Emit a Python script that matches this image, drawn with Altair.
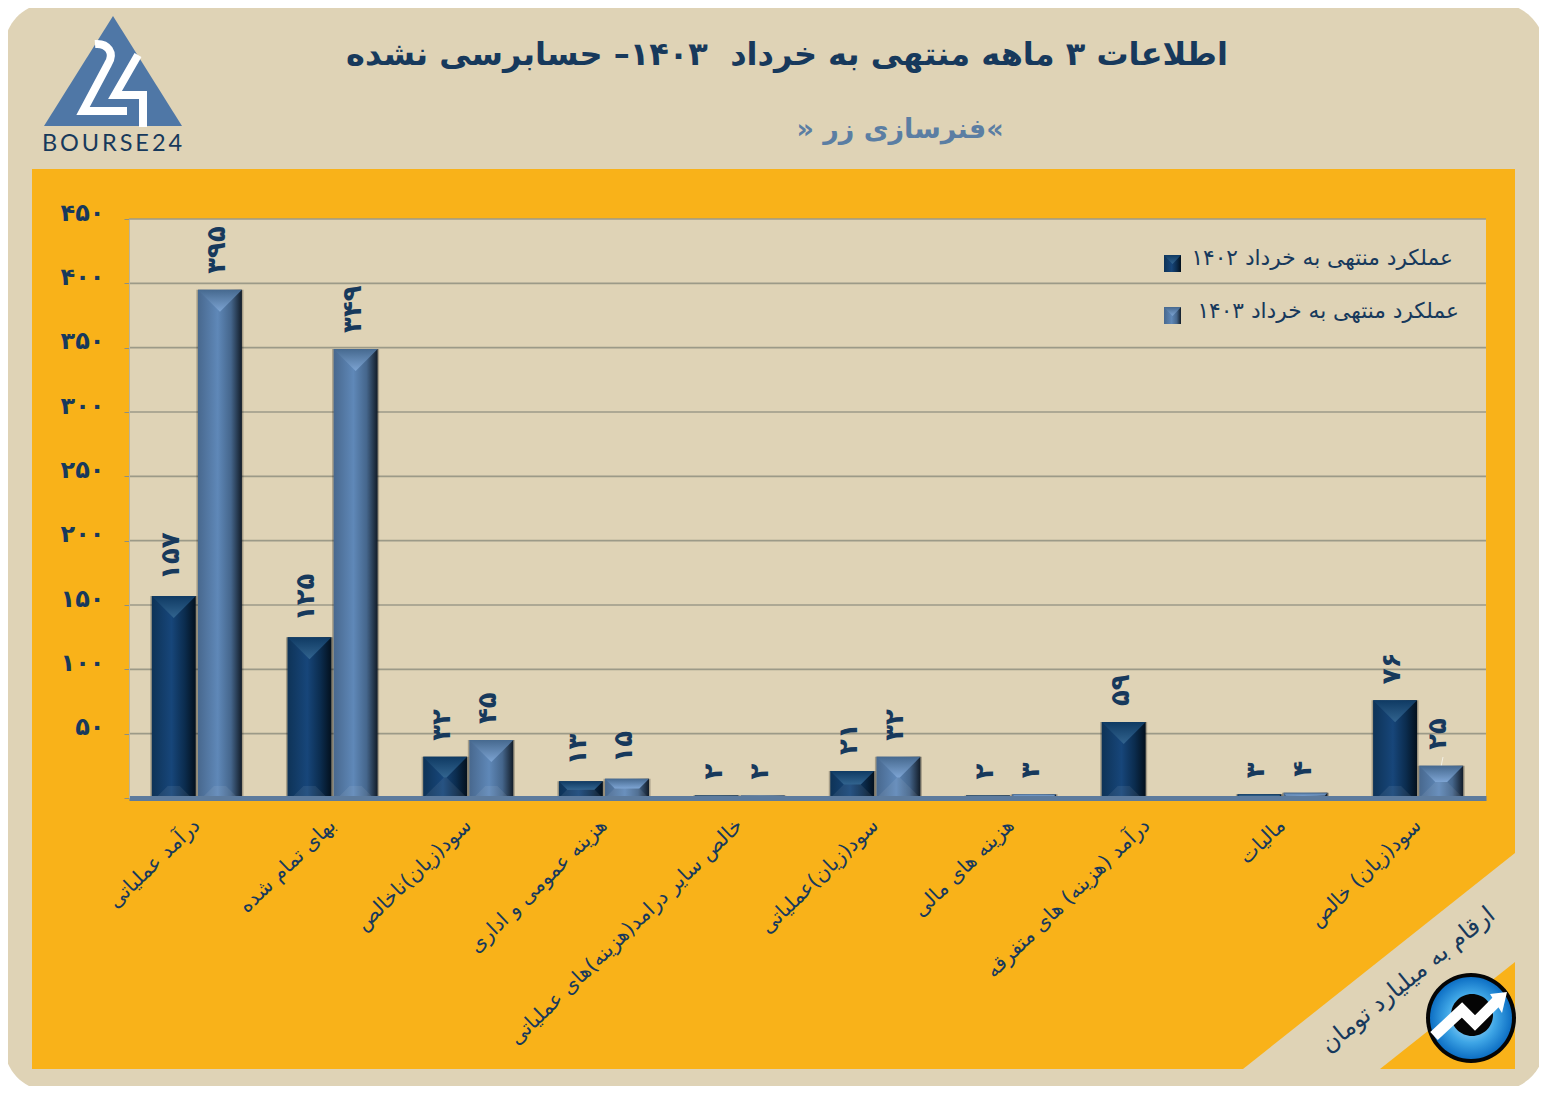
import altair as alt
import pandas as pd

TITLE = "اطلاعات ۳ ماهه منتهی به خرداد\u00a0 ۱۴۰۳– حسابرسی نشده"
SUBTITLE = "» فنرسازی زر«"
NOTE = "ارقام به میلیارد تومان"
LOGO_TEXT = "B\u2009O\u2009U\u2009R\u2009S\u2009E\u20092\u20094"
SERIES = ["عملکرد منتهی به خرداد ۱۴۰۲", "عملکرد منتهی به خرداد ۱۴۰۳"]
CATEGORIES = [
    "درآمد عملیاتی", "بهای تمام شده", "سود(زیان)ناخالص", "هزینه عمومی و اداری",
    "خالص سایر درامد(هزینه)های عملیاتی", "سود(زیان)عملیاتی", "هزینه های مالی",
    "درآمد (هزینه) های متفرقه", "مالیات", "سود(زیان) خالص",
]
VALUES_1402 = [157, 125, 32, 13, 2, 21, 2, 59, 3, 76]
VALUES_1403 = [395, 349, 45, 15, 2, 32, 3, None, 4, 25]
Y_TICKS = [0, 50, 100, 150, 200, 250, 300, 350, 400, 450]

PLOT_W, PLOT_H = 1357, 579
FONT = "DejaVu Sans"
NAVY = "#17395c"
TAN = "#dfd3b6"
YELLOW = "#f9b219"
PX_PER_UNIT = PLOT_H / 450
FA = str.maketrans("0123456789", "۰۱۲۳۴۵۶۷۸۹")


def top_path(v):
    h = v * PX_PER_UNIT
    d = min(22, h / 2)
    return f"M-22,0L22,0L{22-d:.1f},{d:.1f}L{-22+d:.1f},{d:.1f}Z"


def bottom_path(v):
    h = v * PX_PER_UNIT
    w, b = (18, 12) if h >= 44 else (22, h / 2)
    return f"M{-w},0L{w},0L{w-b:.1f},{-b:.1f}L{-w+b:.1f},{-b:.1f}Z"


rows = []
for cat, a, b in zip(CATEGORIES, VALUES_1402, VALUES_1403):
    for s, v in ((SERIES[0], a), (SERIES[1], b)):
        if v is not None:
            rows.append(dict(cat=cat, series=s, value=v, label=str(v).translate(FA),
                             top=top_path(v), bottom=bottom_path(v)))
df = pd.DataFrame(rows)
one = alt.Data(values=[{"k": 1}])


def px(x):
    return x - 129


def py(y):
    return y - 219


def deco(path, fill=None, stroke=None, width=0, **kw):
    """Decorative outline written in page pixels."""
    args = dict(shape=path, size=4, opacity=1)
    if fill is not None:
        args.update(fill=fill, filled=True)
    else:
        args.update(filled=False, fill="transparent")
    if stroke is not None:
        args.update(stroke=stroke, strokeWidth=width)
    args.update(kw)
    return alt.Chart(one).mark_point(**args).encode(x=alt.value(px(0)), y=alt.value(py(0)))


def label(text, x, y, size, color=NAVY, weight="normal", align="center", angle=0, font=FONT):
    return alt.Chart(one).mark_text(
        text=text, font=font, fontSize=size, fontWeight=weight, color=color,
        align=align, baseline="middle", angle=angle,
    ).encode(x=alt.value(px(x)), y=alt.value(py(y)))


def lin(stops, x2=1, y2=0):
    return alt.LinearGradient(
        gradient="linear", x1=0, y1=0, x2=x2, y2=y2,
        stops=[alt.GradientStop(offset=o, color=c) for o, c in stops],
    )


BODY = [
    lin([(0, "#0e3357"), (0.45, "#17467a"), (0.75, "#0b2c4e"), (1, "#03101d")]),
    lin([(0, "#48688e"), (0.45, "#5f88b8"), (0.75, "#45668c"), (1, "#121c28")]),
]
TOP = [
    lin([(0, "#0f3a63"), (1, "#32648f")], x2=0, y2=1),
    lin([(0, "#46698f"), (1, "#7da4d3")], x2=0, y2=1),
]

x_enc = alt.X("cat:N", sort=CATEGORIES, title=None,
              scale=alt.Scale(paddingInner=0.33, paddingOuter=0.165),
              axis=alt.Axis(labelAngle=-44, labelAlign="right", labelBaseline="middle",
                            labelFont=FONT, labelFontSize=20.4, labelColor=NAVY, labelPadding=24,
                            labelLimit=500, ticks=False, domainColor="#5d7b9d", domainWidth=5,
                            grid=False, zindex=1))
y_enc = alt.Y("value:Q", title=None,
              scale=alt.Scale(domain=[0, 450], nice=False),
              axis=alt.Axis(values=Y_TICKS,
                            labelExpr="datum.value == 0 ? '' : replace(replace(replace(replace(replace(replace(replace(replace(replace(replace(datum.label,/0/g,'۰'),/1/g,'۱'),/2/g,'۲'),/3/g,'۳'),/4/g,'۴'),/5/g,'۵'),/6/g,'۶'),/7/g,'۷'),/8/g,'۸'),/9/g,'۹')",
                            labelFont=FONT, labelFontSize=24, labelFontWeight="bold", labelColor=NAVY,
                            labelPadding=20, labelOffset=-6, tickSize=5, tickColor="#8f8f80",
                            domainColor="#b9b39f", domainWidth=1, grid=False, zindex=1))
off_enc = alt.XOffset("series:N", sort=SERIES, scale=alt.Scale(domain=SERIES, paddingInner=0.03))

layers = [
    deco("M62,1L1485,1C1525,1 1547,23 1547,62L1547,1032C1547,1071 1525,1093 1485,1093L62,1093C22,1093 2,1071 2,1032L2,62C2,23 22,1 62,1Z", fill=TAN),
    deco("M32,169L1515,169L1515,1069L32,1069Z", fill=YELLOW),
    deco("M1243,1069L1515,853L1515,962L1380,1069Z", fill=TAN),
    deco("M129,219L1486,219L1486,798L129,798Z", fill=TAN),
    # logo
    deco("M113,16L182,126L44,126Z", fill="#4f77a6"),
    deco("M95,44C108,43 115,53 108,64L83,111L127,111", stroke="white", width=8),
    deco("M138,55L115,95L143,95L143,127", stroke="white", width=8),
    label(LOGO_TEXT, 112, 144, 23.5, font="Lato"),
    # titles
    label(TITLE, 787, 55, 32, weight="bold"),
    label(SUBTITLE, 900, 130, 27, color="#5b7ea3", weight="bold"),
    # grid from the tick values
    alt.Chart(alt.Data(values=[{"value": v} for v in Y_TICKS[1:]])).mark_rule(
        color="#9c9a88", strokeWidth=1.6
    ).encode(y=alt.Y("value:Q", scale=alt.Scale(domain=[0, 450], nice=False))),
    # legend
    deco("M1164,255L1181,255L1181,272L1164,272Z", fill=BODY[0]),
    deco("M1164,255L1181,255L1172.5,264Z", fill=TOP[0]),
    deco("M1164,307L1181,307L1181,324L1164,324Z", fill=BODY[1]),
    deco("M1164,307L1181,307L1172.5,316Z", fill=TOP[1]),
    label(SERIES[0], 1453, 258, 21.7, align="right"),
    label(SERIES[1], 1459, 311, 21.7, align="right"),
    # note and badge
    label(NOTE, 1408, 980, 24, angle=321),
    deco("M1426,1018A45,45 0 1,1 1516,1018A45,45 0 1,1 1426,1018Z", fill="#050505"),
    deco("M1430,1018A41,41 0 1,1 1512,1018A41,41 0 1,1 1430,1018Z",
         fill=alt.RadialGradient(gradient="radial", stops=[
             alt.GradientStop(offset=0, color="#cdefff"),
             alt.GradientStop(offset=0.6, color="#3fa6e6"),
             alt.GradientStop(offset=1, color="#0d6fc4")])),
    deco("M1451,1015A21,21 0 1,1 1493,1015A21,21 0 1,1 1451,1015Z", fill="#050505"),
    deco("M1434,1036L1462,1010L1475,1023L1497,1001", stroke="white", width=11),
    deco("M1490,994L1507,992L1502,1013Z", fill="white"),
    deco("M1443,757L1441,767", stroke="#f2efe3", width=1),
]

base = alt.Chart(df)
for i, s in enumerate(SERIES):
    d = base.transform_filter(alt.datum.series == s)
    layers.append(d.mark_bar(width=47, color="#000000", opacity=0.25).encode(
        x=x_enc, xOffset=off_enc, y=y_enc))
for i, s in enumerate(SERIES):
    d = base.transform_filter(alt.datum.series == s)
    layers.append(d.mark_bar(width=44, color=BODY[i]).encode(
        x=x_enc, xOffset=off_enc, y=y_enc))
    layers.append(d.mark_point(filled=True, fill=TOP[i], size=4, opacity=1).encode(
        x=x_enc, xOffset=off_enc, y=y_enc, shape=alt.Shape("top:N", scale=None, legend=None)))
    layers.append(d.mark_point(filled=True, fill="#ffffff", size=4, opacity=0.07).encode(
        x=x_enc, xOffset=off_enc, y=alt.YDatum(0), shape=alt.Shape("bottom:N", scale=None, legend=None)))

layers.append(base.mark_text(
    font=FONT, fontSize=26, fontWeight="bold", color=NAVY, angle=270,
    align="left", baseline="middle", dx=16, dy=-3,
).encode(x=x_enc, xOffset=off_enc, y=y_enc, text="label:N"))

chart = alt.layer(*layers).properties(
    width=PLOT_W, height=PLOT_H,
    autosize=alt.AutoSizeParams(type="none"),
    padding={"left": 121, "top": 211, "right": 53, "bottom": 288},
    background="white",
).configure_view(stroke=None)

chart.save("out.html", embed_options={"renderer": "svg", "actions": False})
